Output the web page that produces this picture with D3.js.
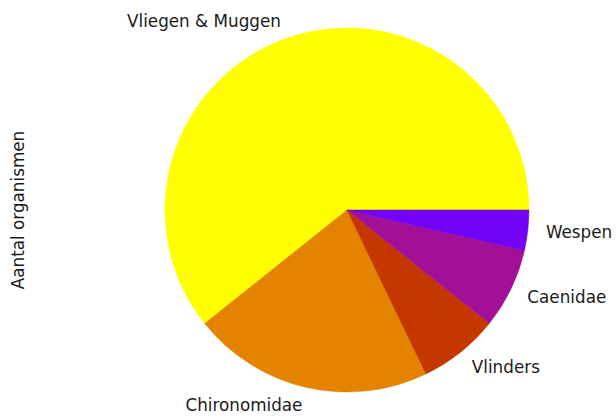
<!DOCTYPE html>
<html>
<head>
<meta charset="utf-8">
<script src="https://cdn.jsdelivr.net/npm/d3@7"></script>
<style>
  html, body { margin: 0; padding: 0; background: #fff; }
  svg { display: block; font-family: "DejaVu Sans", sans-serif; }
</style>
</head>
<body>
<div id="chart"></div>
<script>
const categories = ["Vliegen & Muggen", "Chironomidae", "Vlinders", "Caenidae", "Wespen"];
const counts = [17, 6, 2, 2, 1];
// gnuplot colormap sampled at 1.0, 0.8, 0.6, 0.4, 0.2
const colors = ["#ffff00", "#e48300", "#c63700", "#a11096", "#7202f3"];
const yLabel = "Aantal organismen";

const width = 616, height = 418;
const cx = 347, cy = 210, radius = 182;
const fontSize = "16.8px";

const svg = d3.select("#chart").append("svg")
  .attr("width", width).attr("height", height);

const data = categories.map((name, i) => ({ name, value: counts[i], color: colors[i] }));

// matplotlib style: start at 3 o'clock, go counterclockwise
const pie = d3.pie().sort(null).value(d => d.value)
  .startAngle(Math.PI / 2).endAngle(Math.PI / 2 - 2 * Math.PI);
const arcs = pie(data);
const arc = d3.arc().innerRadius(0).outerRadius(radius);

const g = svg.append("g").attr("transform", `translate(${cx},${cy})`);

g.selectAll("path").data(arcs).join("path")
  .attr("d", arc)
  .attr("fill", d => d.data.color)
  .attr("stroke", d => d.data.color)
  .attr("stroke-width", 0.5);

g.selectAll("text").data(arcs).join("text")
  .each(function(d) {
    const a = (d.startAngle + d.endAngle) / 2;
    const x = Math.sin(a) * radius * 1.1;
    const y = -Math.cos(a) * radius * 1.1;
    d3.select(this)
      .attr("x", x).attr("y", y)
      .attr("text-anchor", x > 0 ? "start" : "end");
  })
  .attr("dominant-baseline", "central")
  .attr("font-size", fontSize)
  .attr("fill", "#1a1a1a")
  .text(d => d.data.name);

svg.append("text")
  .attr("transform", `translate(18,${cy}) rotate(-90)`)
  .attr("text-anchor", "middle")
  .attr("dominant-baseline", "central")
  .attr("font-size", fontSize)
  .attr("fill", "#1a1a1a")
  .text(yLabel);
</script>
</body>
</html>
